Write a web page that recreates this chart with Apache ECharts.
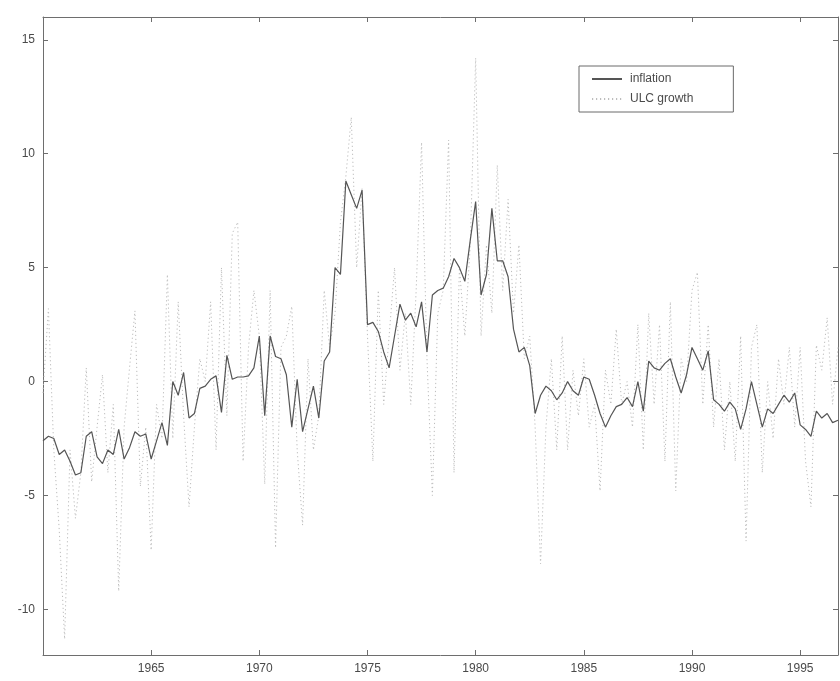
<!DOCTYPE html>
<html>
<head>
<meta charset="utf-8">
<script src="https://cdn.jsdelivr.net/npm/echarts@6/dist/echarts.min.js"></script>
<style>
  html, body { margin: 0; padding: 0; background: #ffffff; }
  #chart { width: 840px; height: 681px; }
</style>
</head>
<body>
<div id="chart"></div>
<script>
// Quarterly series, 1960Q1 .. 1996Q4 (four values per row = one year)
const firstYear = 1960;
const periodsPerYear = 4;

const inflation = [
  -2.6, -2.4, -2.5, -3.2,   // 1960
  -3.0, -3.5, -4.1, -4.0,   // 1961
  -2.4, -2.2, -3.3, -3.6,   // 1962
  -3.0, -3.2, -2.1, -3.4,   // 1963
  -2.9, -2.2, -2.4, -2.3,   // 1964
  -3.4, -2.6, -1.8, -2.8,   // 1965
   0.0, -0.6,  0.4, -1.6,   // 1966
  -1.4, -0.3, -0.2,  0.1,   // 1967
   0.25, -1.35, 1.15, 0.1,  // 1968
   0.2,  0.2,  0.25, 0.6,   // 1969
   2.0, -1.5,  2.0,  1.1,   // 1970
   1.0,  0.3, -2.0,  0.1,   // 1971
  -2.2, -1.2, -0.2, -1.6,   // 1972
   0.9,  1.3,  5.0,  4.7,   // 1973
   8.8,  8.2,  7.6,  8.4,   // 1974
   2.5,  2.6,  2.2,  1.3,   // 1975
   0.6,  2.0,  3.4,  2.7,   // 1976
   3.0,  2.4,  3.5,  1.3,   // 1977
   3.8,  4.0,  4.1,  4.6,   // 1978
   5.4,  5.0,  4.4,  6.2,   // 1979
   7.9,  3.8,  4.7,  7.6,   // 1980
   5.3,  5.3,  4.6,  2.3,   // 1981
   1.3,  1.5,  0.7, -1.4,   // 1982
  -0.6, -0.2, -0.4, -0.8,   // 1983
  -0.5,  0.0, -0.4, -0.6,   // 1984
   0.2,  0.1, -0.6, -1.4,   // 1985
  -2.0, -1.5, -1.1, -1.0,   // 1986
  -0.7, -1.1,  0.0, -1.3,   // 1987
   0.9,  0.6,  0.5,  0.8,   // 1988
   1.0,  0.2, -0.5,  0.3,   // 1989
   1.5,  1.0,  0.5,  1.35,  // 1990
  -0.8, -1.0, -1.3, -0.9,   // 1991
  -1.2, -2.1, -1.2,  0.0,   // 1992
  -1.0, -2.0, -1.2, -1.4,   // 1993
  -1.0, -0.6, -0.9, -0.5,   // 1994
  -1.9, -2.1, -2.4, -1.3,   // 1995
  -1.6, -1.4, -1.8, -1.7    // 1996
];

const ulcGrowth = [
  -0.5,  3.2, -3.0, -6.5,   // 1960
 -11.3, -3.0, -6.0, -4.0,   // 1961
   0.6, -4.4, -2.0,  0.3,   // 1962
  -4.0, -1.0, -9.2, -2.0,   // 1963
   0.6,  3.1, -4.6, -2.0,   // 1964
  -7.4, -1.0, -2.5,  4.7,   // 1965
  -2.5,  3.5, -1.5, -5.5,   // 1966
  -2.0,  1.0,  0.0,  3.5,   // 1967
  -3.0,  5.0, -1.5,  6.5,   // 1968
   7.0, -3.5,  1.5,  4.0,   // 1969
   2.0, -4.5,  4.0, -7.3,   // 1970
   1.5,  2.0,  3.3, -3.0,   // 1971
  -6.3,  1.0, -3.0, -1.5,   // 1972
   4.0,  1.5,  3.0,  7.0,   // 1973
   9.0, 11.6,  5.0,  8.5,   // 1974
   2.0, -3.5,  4.0, -1.0,   // 1975
   2.0,  5.0,  0.5,  3.0,   // 1976
  -1.0,  4.0, 10.5,  1.0,   // 1977
  -5.0,  3.0,  4.0, 10.6,   // 1978
  -4.0,  5.0,  2.0,  6.0,   // 1979
  14.2,  2.0,  6.0,  3.0,   // 1980
   9.5,  4.0,  8.0,  3.0,   // 1981
   6.0,  1.0,  2.0, -2.0,   // 1982
  -8.0, -2.0,  1.0, -3.0,   // 1983
   2.0, -3.0,  0.5, -1.5,   // 1984
   1.0, -2.0, -1.0, -4.8,   // 1985
   0.5, -1.0,  2.3, -1.0,   // 1986
   0.0, -2.0,  2.5, -3.0,   // 1987
   3.0, -1.0,  2.5, -3.5,   // 1988
   3.5, -4.8,  1.0,  0.0,   // 1989
   4.0,  4.8, -1.0,  2.5,   // 1990
  -2.0,  1.0, -3.0,  0.0,   // 1991
  -3.5,  2.0, -7.0,  1.5,   // 1992
   2.5, -4.0,  0.0, -2.5,   // 1993
   1.0, -1.0,  1.5, -2.0,   // 1994
   1.5, -3.5, -5.5,  1.6,   // 1995
   0.5,  2.8, -1.0,  1.5    // 1996
];

const yearTicks = [1965, 1970, 1975, 1980, 1985, 1990, 1995];
const valueTicks = [-10, -5, 0, 5, 10, 15];

const xMin = 1960, xMax = 1996.75;
const yMin = -12, yMax = 16;

function toPairs(values) {
  return values.map((v, i) => [firstYear + i / periodsPerYear, v]);
}

const axisColor = '#6e6e6e';
const labelColor = '#4a4a4a';
const fontFamily = '"Liberation Sans", Arial, Helvetica, sans-serif';

const chart = echarts.init(document.getElementById('chart'), null, { renderer: 'canvas' });

const boxTick = { show: true, inside: true, length: 5, lineStyle: { color: axisColor, width: 1 } };

chart.setOption({
  backgroundColor: '#ffffff',
  animation: false,
  grid: { left: 43, right: 2, top: 17, bottom: 26, containLabel: false },
  legend: {
    left: 579,
    top: 66,
    orient: 'vertical',
    itemWidth: 30,
    itemHeight: 12,
    itemGap: 8,
    padding: [7, 40, 7, 12],
    borderColor: '#6a6a6a',
    borderWidth: 1,
    backgroundColor: '#ffffff',
    // line samples only, no marker
    itemStyle: { opacity: 0 },
    textStyle: { color: '#4a4a4a', fontSize: 12, fontFamily: fontFamily, padding: [0, 0, 0, 3] },
    data: ['inflation', 'ULC growth']
  },
  xAxis: [
    {
      type: 'value', min: xMin, max: xMax, position: 'bottom',
      splitLine: { show: false },
      axisLine: { show: true, onZero: false, lineStyle: { color: axisColor, width: 1 } },
      axisTick: Object.assign({ customValues: yearTicks }, boxTick),
      axisLabel: {
        customValues: yearTicks, color: labelColor, fontSize: 12, fontFamily: fontFamily, margin: 8,
        formatter: v => String(v)
      }
    },
    {
      type: 'value', min: xMin, max: xMax, position: 'top',
      splitLine: { show: false },
      axisLine: { show: true, onZero: false, lineStyle: { color: axisColor, width: 1 } },
      axisTick: Object.assign({ customValues: yearTicks }, boxTick),
      axisLabel: { show: false }
    }
  ],
  yAxis: [
    {
      type: 'value', min: yMin, max: yMax, position: 'left',
      splitLine: { show: false },
      axisLine: { show: true, onZero: false, lineStyle: { color: axisColor, width: 1 } },
      axisTick: Object.assign({ customValues: valueTicks }, boxTick),
      axisLabel: {
        customValues: valueTicks, color: labelColor, fontSize: 12, fontFamily: fontFamily, margin: 8,
        formatter: v => String(v)
      }
    },
    {
      type: 'value', min: yMin, max: yMax, position: 'right',
      splitLine: { show: false },
      axisLine: { show: true, onZero: false, lineStyle: { color: axisColor, width: 1 } },
      axisTick: Object.assign({ customValues: valueTicks }, boxTick),
      axisLabel: { show: false }
    }
  ],
  series: [
    {
      name: 'ULC growth',
      type: 'line',
      xAxisIndex: 0, yAxisIndex: 0,
      data: toPairs(ulcGrowth),
      symbol: 'none',
      z: 2,
      lineStyle: { color: '#bdbdbd', width: 1, type: [1.2, 2.8] },
      itemStyle: { color: '#bdbdbd' }
    },
    {
      name: 'inflation',
      type: 'line',
      xAxisIndex: 0, yAxisIndex: 0,
      data: toPairs(inflation),
      symbol: 'none',
      z: 3,
      lineStyle: { color: '#555555', width: 1.2 },
      itemStyle: { color: '#555555' }
    }
  ]
});
</script>
</body>
</html>
